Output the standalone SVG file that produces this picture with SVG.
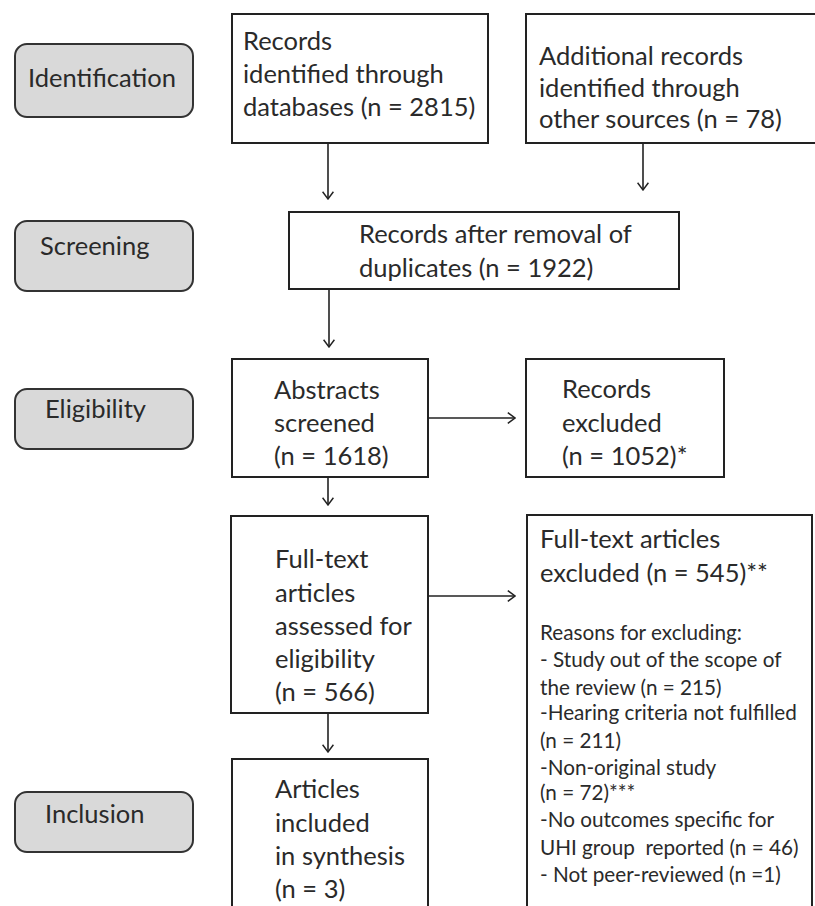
<svg xmlns="http://www.w3.org/2000/svg" width="815" height="906" viewBox="0 0 815 906">
<style>
.stage{fill:#d9d9d9;stroke:#333;stroke-width:2}
.box{fill:#fff;stroke:#222;stroke-width:2}
.t{font-family:Lato,"Liberation Sans",sans-serif;font-size:25.5px;fill:#2a2a2a}
.s{font-family:Lato,"Liberation Sans",sans-serif;font-size:20.7px;fill:#2a2a2a}
.c{fill:none;stroke:#222;stroke-width:1.6}
</style>
<defs>
<marker id="ah" markerUnits="userSpaceOnUse" viewBox="0 0 10 14" markerWidth="9" markerHeight="13" refX="9" refY="7" orient="auto">
<path d="M1,1 L9,7 L1,13" fill="none" stroke="#222" stroke-width="1.6"/>
</marker>
</defs>
<rect width="815" height="906" fill="#fff"/>
<g id="stage-identification"><rect class="stage" x="15" y="44" width="178" height="73" rx="12"/><text class="t" x="28" y="87">Identification</text></g>
<g id="stage-screening"><rect class="stage" x="15" y="221" width="178" height="70" rx="12"/><text class="t" x="40" y="255">Screening</text></g>
<g id="stage-eligibility"><rect class="stage" x="15" y="389" width="178" height="60" rx="12"/><text class="t" x="45" y="418">Eligibility</text></g>
<g id="stage-inclusion"><rect class="stage" x="15" y="792" width="178" height="60" rx="12"/><text class="t" x="45" y="823">Inclusion</text></g>

<g id="records-db"><rect class="box" x="232" y="14" width="256" height="129"/>
<text class="t"><tspan x="243" y="50">Records</tspan><tspan x="243" y="83">identified through</tspan><tspan x="243" y="116">databases (n = 2815)</tspan></text></g>
<g id="records-other"><rect class="box" x="526" y="14" width="300" height="129"/>
<text class="t"><tspan x="539" y="65">Additional records</tspan><tspan x="539" y="97">identified through</tspan><tspan x="539" y="128">other sources (n = 78)</tspan></text></g>
<g id="records-dedup"><rect class="box" x="289" y="212" width="390" height="77"/>
<text class="t"><tspan x="359" y="243">Records after removal of</tspan><tspan x="359" y="277">duplicates (n = 1922)</tspan></text></g>
<g id="abstracts"><rect class="box" x="232" y="359" width="196" height="118"/>
<text class="t"><tspan x="274" y="399">Abstracts</tspan><tspan x="274" y="432">screened</tspan><tspan x="274" y="465">(n = 1618)</tspan></text></g>
<g id="records-excluded"><rect class="box" x="526" y="359" width="198" height="118"/>
<text class="t"><tspan x="562" y="398">Records</tspan><tspan x="562" y="432">excluded</tspan><tspan x="562" y="465">(n = 1052)*</tspan></text></g>
<g id="fulltext-assessed"><rect class="box" x="231" y="516" width="197" height="197"/>
<text class="t"><tspan x="275" y="568">Full-text</tspan><tspan x="275" y="602">articles</tspan><tspan x="275" y="635">assessed for</tspan><tspan x="275" y="668">eligibility</tspan><tspan x="275" y="701">(n = 566)</tspan></text></g>
<g id="fulltext-excluded"><rect class="box" x="527" y="515" width="285" height="420"/>
<text class="t"><tspan x="540" y="548">Full-text articles</tspan><tspan x="540" y="582">excluded (n = 545)**</tspan></text>
<text class="s"><tspan x="540" y="640">Reasons for excluding:</tspan><tspan x="540" y="667">- Study out of the scope of</tspan><tspan x="540" y="695">the review (n = 215)</tspan><tspan x="540" y="720">-Hearing criteria not fulfilled</tspan><tspan x="540" y="748">(n = 211)</tspan><tspan x="540" y="775">-Non-original study</tspan><tspan x="540" y="800">(n = 72)***</tspan><tspan x="540" y="827">-No outcomes specific for</tspan><tspan x="540" y="855">UHI group&#160; reported (n = 46)</tspan><tspan x="540" y="882">- Not peer-reviewed (n =1)</tspan></text></g>
<g id="included"><rect class="box" x="232" y="759" width="196" height="180"/>
<text class="t"><tspan x="275" y="798">Articles</tspan><tspan x="275" y="832">included</tspan><tspan x="275" y="865">in synthesis</tspan><tspan x="275" y="898">(n = 3)</tspan></text></g>

<g id="connectors">
<line class="c" x1="328" y1="143" x2="328" y2="199" marker-end="url(#ah)"/>
<line class="c" x1="643" y1="143" x2="643" y2="190" marker-end="url(#ah)"/>
<line class="c" x1="329" y1="289" x2="329" y2="347" marker-end="url(#ah)"/>
<line class="c" x1="428" y1="418" x2="515" y2="418" marker-end="url(#ah)"/>
<line class="c" x1="328" y1="477" x2="328" y2="505" marker-end="url(#ah)"/>
<line class="c" x1="428" y1="596" x2="515" y2="596" marker-end="url(#ah)"/>
<line class="c" x1="328" y1="713" x2="328" y2="752" marker-end="url(#ah)"/>
</g>
</svg>
